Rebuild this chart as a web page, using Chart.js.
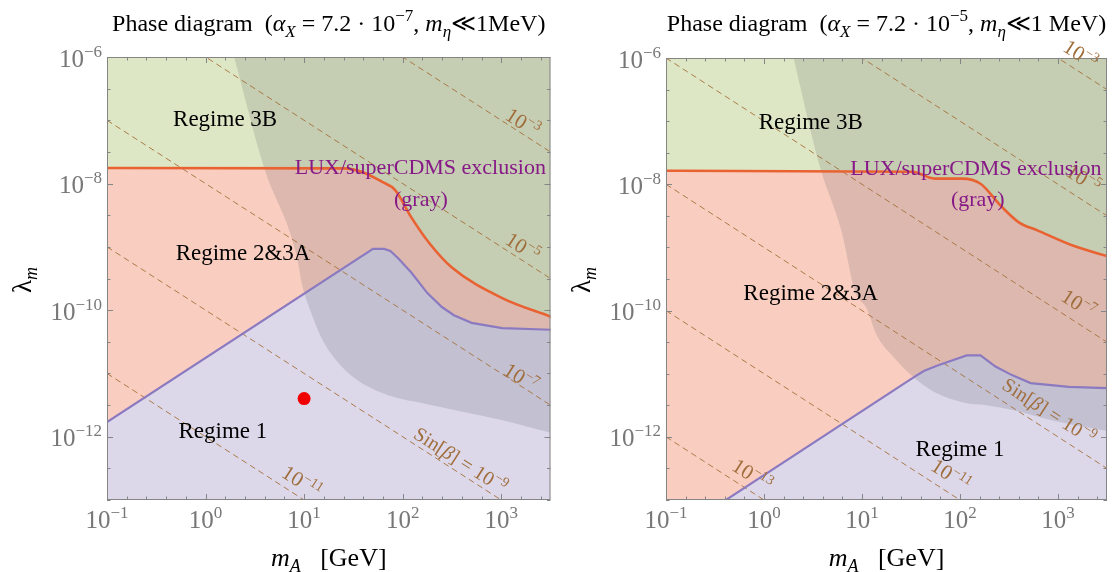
<!DOCTYPE html>
<html>
<head>
<meta charset="utf-8">
<script src="https://cdn.jsdelivr.net/npm/chart.js@4.4.1/dist/chart.umd.min.js"></script>
<style>
  html, body { margin: 0; padding: 0; background: #fff; }
  #wrap { position: relative; width: 1114px; height: 572px; }
  .panel { position: absolute; top: 0; width: 557px; height: 572px; }
</style>
</head>
<body>
<div id="wrap">
  <div class="panel" style="left:0"><canvas id="left" width="557" height="572"></canvas></div>
  <div class="panel" style="left:557px"><canvas id="right" width="557" height="572"></canvas></div>
</div>
<script>
// axis ranges and tick labels (powers of ten)
const X_MIN = 0.1, X_MAX = 3162.28, Y_MIN = 1e-13, Y_MAX = 1e-6;
const xTickExps = [-1, 0, 1, 2, 3];
const yTickExps = [-6, -8, -10, -12];

// left panel: alpha_X = 7.2e-7
const leftOrangeX = [0.1, 25, 40, 62, 84, 122, 186, 316, 1023, 3236];
const leftOrangeY = [1.76e-8, 1.74e-8, 1.5e-8, 1.06e-8, 7.9e-9, 2.95e-9, 1.15e-9, 4.7e-10, 1.55e-10, 7.8e-11];
const leftPurpleX = [0.1, 50, 65, 75, 90, 123, 178, 250, 331, 500, 1023, 3236];
const leftPurpleY = [1.7e-12, 9.3e-10, 9.3e-10, 8.6e-10, 6.6e-10, 3.9e-10, 1.86e-10, 1.12e-10, 8.3e-11, 6.3e-11, 5.2e-11, 4.9e-11];
const leftGrayX = [1.95, 3.93, 8.3, 9.55, 11.8, 14.8, 21.1, 34.5, 79, 155, 417, 977, 3236];
const leftGrayY = [1e-6, 1.78e-8, 7.9e-10, 2.5e-10, 9.1e-11, 3.8e-11, 1.62e-11, 7.9e-12, 4.3e-12, 3.4e-12, 2.45e-12, 1.86e-12, 1.15e-12];
const leftContourProducts = [1e-4, 1e-6, 1e-8, 1e-10, 1e-12];
const leftContourExps = [-3, -5, -7, -9, -11];
const leftContourLabelX = [1660, 1660, 1585, 389, 9.5];
const leftContourLabelY = [9.3e-8, 1e-9, 8.7e-12, 4.3e-13, 1.95e-13];
const redDotX = [10];
const redDotY = [4e-12];

// right panel: alpha_X = 7.2e-5
const rightOrangeX = [0.1, 32.7, 55, 105, 162, 263, 398, 617, 1413, 3236];
const rightOrangeY = [1.64e-8, 1.58e-8, 1.23e-8, 1.23e-8, 1.02e-8, 4.5e-9, 2.5e-9, 1.86e-9, 1.07e-9, 7.2e-10];
const rightPurpleX = [0.1, 32.7, 42.7, 59, 117, 162, 230, 339, 525, 1288, 3236];
const rightPurpleY = [2.4e-14, 8.5e-12, 1.1e-11, 1.35e-11, 1.95e-11, 1.95e-11, 1.3e-11, 9.5e-12, 7.1e-12, 6.2e-12, 5.9e-12];
const rightGrayX = [2.0, 3.7, 6.2, 8.5, 11.2, 14.1, 21.4, 32.7, 54, 117, 178, 372, 933, 3236];
const rightGrayY = [1e-6, 1.95e-8, 1.78e-9, 2.0e-10, 1.07e-10, 4.1e-11, 1.78e-11, 9.1e-12, 5.2e-12, 3.4e-12, 3.2e-12, 2.6e-12, 1.78e-12, 1.23e-12];
const rightContourProducts = [1e-3, 1e-5, 1e-7, 1e-9, 1e-11, 1e-13];
const rightContourExps = [-3, -5, -7, -9, -11, -13];
const rightContourLabelX = [1700, 1820, 1620, 813, 81, 0.76];
const rightContourLabelY = [1.15e-6, 1.23e-8, 1.29e-10, 2.57e-12, 2.5e-13, 2.5e-13];

// region captions (text, x, y in data units)
const leftRegionText = ['Regime 3B', 'Regime 2&3A', 'Regime 1'];
const leftRegionX = [1.58, 2.4, 1.5];
const leftRegionY = [1.1e-7, 8.3e-10, 1.3e-12];
const rightRegionText = ['Regime 3B', 'Regime 2&3A', 'Regime 1'];
const rightRegionX = [3.0, 3.0, 100];
const rightRegionY = [1.0e-7, 2.0e-10, 6.6e-13];
const luxText = ['LUX/superCDMS exclusion', '(gray)'];
const leftLuxX = [151, 153];
const leftLuxY = [1.8e-8, 5.8e-9];
const rightLuxX = [145, 152];
const rightLuxY = [1.8e-8, 5.9e-9];

const SERIF = "'Liberation Serif', 'DejaVu Serif', serif";
const GREEN = 'rgb(222,231,197)';
const SALMON = 'rgb(249,206,192)';
const LAVENDER = 'rgb(220,216,234)';
const GRAY = 'rgba(70,70,85,0.16)';
const ORANGE = 'rgb(233,98,50)';
const PURPLE = 'rgb(139,122,192)';
const BROWN = 'rgb(160,110,60)';

function toPts(xs, ys) {
    return xs.map((x, i) => ({ x: x, y: ys[i] }));
}

function seg(t, size, italic, dy) {
    return { t: t, size: size, italic: !!italic, dy: dy || 0 };
}

function expStr(e) {
    return e < 0 ? '\u2212' + (-e) : String(e);
}

function powSegs(prefix, e, size) {
    return [seg(prefix + '10', size), seg(expStr(e), Math.round(size * 0.66), false, -Math.round(size * 0.4))];
}

function drawRich(ctx, segs, x, y, align, color) {
    ctx.fillStyle = color;
    ctx.textBaseline = 'alphabetic';
    ctx.textAlign = 'left';
    let w = 0;
    segs.forEach(s => {
        ctx.font = (s.italic ? 'italic ' : '') + s.size + 'px ' + SERIF;
        s.w = ctx.measureText(s.t).width;
        w += s.w;
    });
    let cx = align === 'center' ? x - w / 2 : (align === 'right' ? x - w : x);
    segs.forEach(s => {
        ctx.font = (s.italic ? 'italic ' : '') + s.size + 'px ' + SERIF;
        ctx.fillText(s.t, cx, y + s.dy);
        cx += s.w;
    });
}

function makeDecor(p) {
    return {
        id: 'decor_' + p.id,
        afterDraw(chart) {
            const ctx = chart.ctx;
            const xs = chart.scales.x, ys = chart.scales.y;
            const a = chart.chartArea;
            ctx.save();

            // frame
            ctx.strokeStyle = '#858585';
            ctx.lineWidth = 1;
            ctx.strokeRect(a.left + 0.5, a.top + 0.5, a.right - a.left - 1, a.bottom - a.top - 1);

            // ticks, inward on all four sides
            ctx.beginPath();
            for (let e = -1; e <= 3.5001; e += 0.2) {
                const px = Math.round(xs.getPixelForValue(Math.pow(10, e))) + 0.5;
                const len = Math.abs(e - Math.round(e)) < 1e-6 ? 6 : 3.5;
                ctx.moveTo(px, a.bottom); ctx.lineTo(px, a.bottom - len);
                ctx.moveTo(px, a.top); ctx.lineTo(px, a.top + len);
            }
            for (let e = -13; e <= -5.999; e += 0.5) {
                const py = Math.round(ys.getPixelForValue(Math.pow(10, e))) + 0.5;
                const len = yTickExps.includes(e) ? 6 : 3.5;
                ctx.moveTo(a.left, py); ctx.lineTo(a.left + len, py);
                ctx.moveTo(a.right, py); ctx.lineTo(a.right - len, py);
            }
            ctx.stroke();

            // tick labels
            xTickExps.forEach(e => {
                const px = xs.getPixelForValue(Math.pow(10, e));
                drawRich(ctx, powSegs('', e, 25), px, a.bottom + 28, 'center', '#777');
            });
            yTickExps.forEach(e => {
                const py = ys.getPixelForValue(Math.pow(10, e));
                drawRich(ctx, powSegs('', e, 25), a.left - 5, py + 9.5, 'right', '#777');
            });

            // title
            drawRich(ctx, p.title, (a.left + a.right) / 2, 31, 'center', '#000');

            // axis titles
            drawRich(ctx, [seg('m', 26, true), seg('A', 18, true, 6), seg('   [GeV]', 26)],
                (a.left + a.right) / 2, 566, 'center', '#000');
            ctx.save();
            ctx.translate(p.lambdaX, 280);
            ctx.rotate(-Math.PI / 2);
            drawRich(ctx, [seg('\u03bb', 27), seg('m', 18, true, 6)], 0, 9, 'center', '#000');
            ctx.restore();

            // contour labels, rotated along the dashed lines
            p.contourExps.forEach((e, i) => {
                const c = p.contourProducts[i];
                const x1 = xs.getPixelForValue(1), y1 = ys.getPixelForValue(c);
                const x2 = xs.getPixelForValue(10), y2 = ys.getPixelForValue(c / 10);
                const ang = Math.atan2(y2 - y1, x2 - x1);
                const px = xs.getPixelForValue(p.contourLabelX[i]);
                const py = ys.getPixelForValue(p.contourLabelY[i]);
                let segs;
                if (e === -9) {
                    segs = [seg('Sin[', 20), seg('\u03b2', 20, true), seg('] = 10', 20), seg(expStr(e), 14, false, -8)];
                } else {
                    segs = powSegs('', e, 21);
                }
                ctx.save();
                ctx.translate(px, py);
                ctx.rotate(ang);
                drawRich(ctx, segs, 0, 7, 'center', BROWN);
                ctx.restore();
            });

            // region captions
            p.regionText.forEach((t, i) => {
                drawRich(ctx, [seg(t, 23)], xs.getPixelForValue(p.regionX[i]), ys.getPixelForValue(p.regionY[i]) + 8, 'center', '#000');
            });
            luxText.forEach((t, i) => {
                drawRich(ctx, [seg(t, 22)], xs.getPixelForValue(p.luxX[i]), ys.getPixelForValue(p.luxY[i]) + 7, 'center', 'rgb(135,25,135)');
            });

            ctx.restore();
        }
    };
}

function buildChart(p) {
    const datasets = [];
    const line = (extra) => Object.assign({
        showLine: true, pointRadius: 0, borderWidth: 0, borderColor: 'transparent',
        cubicInterpolationMode: 'monotone', clip: 0
    }, extra);
    const straight = { cubicInterpolationMode: 'default', tension: 0 };

    // red benchmark point
    datasets.push({ data: toPts(p.dotX, p.dotY), showLine: false, pointRadius: 6.5,
        pointBackgroundColor: 'rgb(240,0,0)', pointBorderWidth: 0, order: 0 });
    // boundary lines
    datasets.push(line({ data: toPts(p.orangeX, p.orangeY), borderColor: ORANGE, borderWidth: 2.6, fill: false, order: 1 }));
    datasets.push(line(Object.assign({ data: toPts(p.purpleX, p.purpleY), borderColor: PURPLE, borderWidth: 2.2, fill: false, order: 1 }, straight)));
    // dashed sin(beta) contours: lambda * mA = const
    p.contourProducts.forEach(c => {
        datasets.push(line({ data: [{ x: X_MIN, y: c / X_MIN }, { x: X_MAX, y: c / X_MAX }],
            borderColor: 'rgba(165,112,58,0.9)', borderWidth: 1, borderDash: [6, 4], fill: false, order: 2 }));
    });
    // LUX / superCDMS exclusion (gray, translucent)
    datasets.push(line({ data: toPts(p.grayX, p.grayY), fill: { value: Y_MAX }, backgroundColor: GRAY, order: 3 }));
    // regimes
    datasets.push(line(Object.assign({ data: toPts(p.purpleX, p.purpleY), fill: { value: Y_MIN }, backgroundColor: LAVENDER, order: 4 }, straight)));
    datasets.push(line({ data: toPts(p.orangeX, p.orangeY), fill: { value: Y_MAX }, backgroundColor: GREEN, order: 5 }));
    datasets.push(line({ data: toPts(p.orangeX, p.orangeY), fill: { value: Y_MIN }, backgroundColor: SALMON, order: 6 }));

    new Chart(document.getElementById(p.id), {
        type: 'scatter',
        data: { datasets: datasets },
        options: {
            responsive: false,
            animation: false,
            devicePixelRatio: 1,
            layout: { padding: p.padding },
            scales: {
                x: { type: 'logarithmic', min: X_MIN, max: X_MAX, display: false },
                y: { type: 'logarithmic', min: Y_MIN, max: Y_MAX, display: false }
            },
            plugins: { legend: { display: false }, tooltip: { enabled: false } }
        },
        plugins: [makeDecor(p)]
    });
}

buildChart({
    id: 'left',
    padding: { left: 107, right: 6, top: 57, bottom: 72 },
    lambdaX: 22,
    title: [seg('Phase diagram  (', 24), seg('\u03b1', 24, true), seg('X', 17, true, 6), seg(' = 7.2 \u00b7 10', 24),
        seg('\u22127', 17, false, -10), seg(', ', 24), seg('m', 24, true), seg('\u03b7', 17, true, 6), seg('\u226a1MeV)', 24)],
    orangeX: leftOrangeX, orangeY: leftOrangeY,
    purpleX: leftPurpleX, purpleY: leftPurpleY,
    grayX: leftGrayX, grayY: leftGrayY,
    contourProducts: leftContourProducts, contourExps: leftContourExps,
    contourLabelX: leftContourLabelX, contourLabelY: leftContourLabelY,
    regionText: leftRegionText, regionX: leftRegionX, regionY: leftRegionY,
    luxX: leftLuxX, luxY: leftLuxY,
    dotX: redDotX, dotY: redDotY
});

buildChart({
    id: 'right',
    padding: { left: 109, right: 7, top: 58, bottom: 72 },
    lambdaX: 24,
    title: [seg('Phase diagram  (', 24), seg('\u03b1', 24, true), seg('X', 17, true, 6), seg(' = 7.2 \u00b7 10', 24),
        seg('\u22125', 17, false, -10), seg(', ', 24), seg('m', 24, true), seg('\u03b7', 17, true, 6), seg('\u226a1 MeV)', 24)],
    orangeX: rightOrangeX, orangeY: rightOrangeY,
    purpleX: rightPurpleX, purpleY: rightPurpleY,
    grayX: rightGrayX, grayY: rightGrayY,
    contourProducts: rightContourProducts, contourExps: rightContourExps,
    contourLabelX: rightContourLabelX, contourLabelY: rightContourLabelY,
    regionText: rightRegionText, regionX: rightRegionX, regionY: rightRegionY,
    luxX: rightLuxX, luxY: rightLuxY,
    dotX: [], dotY: []
});
</script>
</body>
</html>
